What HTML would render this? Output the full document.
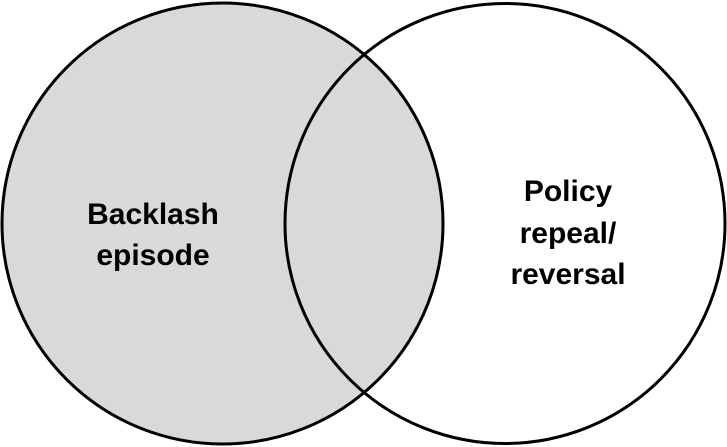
<!DOCTYPE html>
<html><head><style>
html,body{margin:0;padding:0;background:#fff;}
svg{display:block;}
text{font-family:"Liberation Sans",Arial,sans-serif;font-weight:bold;font-size:30px;fill:#000;text-anchor:middle;}
</style></head><body>
<svg width="727" height="447" viewBox="0 0 727 447">
<circle cx="222.5" cy="223.5" r="220.5" fill="#d9d9d9" stroke="none"/>
<circle cx="505" cy="223.5" r="220" fill="none" stroke="#000" stroke-width="3"/>
<circle cx="222.5" cy="223.5" r="220.5" fill="none" stroke="#000" stroke-width="3"/>
<text x="153" y="224">Backlash</text>
<text x="153" y="265">episode</text>
<text x="568" y="201">Policy</text>
<text x="568" y="243">repeal/</text>
<text x="568" y="284">reversal</text>
</svg>
</body></html>
